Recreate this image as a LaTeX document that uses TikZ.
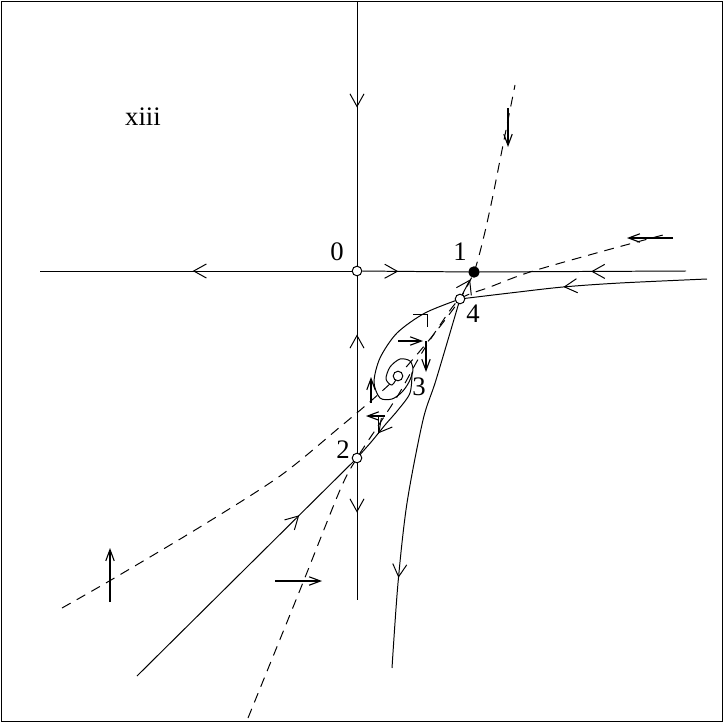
\documentclass[tikz,border=0pt]{standalone}
\usepackage{fontspec}
\setmainfont{Liberation Serif}
\usetikzlibrary{arrows.meta, decorations.markings, backgrounds}
\tikzstyle{equil} = [circle, 
draw=black, 
fill=white, 
line width=0.7pt, 
inner sep=0pt, 
minimum size=0.24cm]
\tikzstyle{equilfull} = [equil, 
fill=black, 
minimum size=0.26cm]
\tikzstyle{eqlabel} = [font=\fontsize{19}{23}\selectfont, 
anchor=base, 
inner sep=0pt]
\tikzstyle{orbit} = [line width=0.7pt]
\tikzstyle{nullcline} = [line width=0.7pt, dash pattern=on 7pt off 5pt]
\tikzstyle{vec} = [line width=0.8pt, -{Straight Barb[length=8pt, width=6pt]}]
\tikzset{midarrow/.style={postaction={decorate, 
  decoration={markings, mark=at position #1 with {\arrow{Straight Barb[length=9pt, width=10pt]}}}}}}

\begin{document}
\begin{tikzpicture}[x=0.025cm, y=-0.025cm]
        \useasboundingbox (0,0) rectangle (724,723);
        \draw[line width=0.7pt] (1.5,1.5) rectangle (722.5,721.5);

        % --- Puntos de equilibrio ---
        \node (n0) [equil] at (357,271) {};
        \node (n1) [equilfull] at (474,272) {};
        \node (n2) [equil] at (357,458) {};
        \node (n3) [equil] at (398,376) {};
        \node (n4) [equil] at (460,299) {};

        \node (l0) [eqlabel] at (337,260) {0};
        \node (l1) [eqlabel] at (460,260) {1};
        \node (l2) [eqlabel] at (343,458) {2};
        \node (l3) [eqlabel] at (419,395) {3};
        \node (l4) [eqlabel] at (473,322) {4};
        \node (caso) [eqlabel] at (143,125) {xiii};

        \coordinate (hL) at (40,271);
        \coordinate (hR) at (686,271);
        \coordinate (vT) at (357,2);
        \coordinate (vB) at (357,600);
        \coordinate (aR) at (707,279);
        \coordinate (cB) at (392,668);
        \coordinate (dL) at (137,676);

        \begin{scope}[on background layer]
        % --- Ceroclinas ---
        \draw [nullcline] plot[smooth] coordinates {(62,608) (111,580) (200,527) (280,476) (340,427) (372,400) (n3.center) (425,345) (445,320) (n4.center) (n1.center) (483,240) (492,200) (503,145) (515,85)};
        \draw [nullcline] plot[smooth] coordinates {(248,718) (300,590) (340,490) (n2.center) (380,423) (400,392) (420,356) (440,325) (n4.center) (490,287) (530,272) (600,252) (663,235)};

        % --- Ejes ---
        \draw [orbit, midarrow=0.51] (n0) -- (hL);
        \draw [orbit, midarrow=0.34] (n0) -- (n1);
        \draw [orbit, midarrow=0.46] (hR) -- (n1);
        \draw [orbit, midarrow=0.40] (vT) -- (n0);
        \draw [orbit, midarrow=0.67] (n2) -- (n0);
        \draw [orbit, midarrow=0.36] (n2) -- (vB);

        % --- Trayectorias ---
        \draw [orbit, midarrow=0.58] plot[smooth] coordinates {(aR) (620,283) (563,287) (510,293) (n4.center)};
        \draw [orbit] plot[smooth] coordinates {(n4.center) (425,313) (397,333) (380,358) (374,382) (380,398) (392,399) (402,392) (409,382) (413,370) (410,361) (400,359) (390,367) (386,379) (392,385) (n3.center)};
        \draw [orbit, midarrow=0.76] plot[smooth] coordinates {(n4.center) (436,380) (423,420) (407,503) (398,583) (cB)};
        \draw [orbit, -{Straight Barb[length=9pt, width=12pt]}, shorten >=2pt] (n4) -- (n1);
        \draw [orbit, midarrow=0.69] plot[smooth] coordinates {(412,372) (410,393) (398,410) (385,425) (372,441) (n2.center)};
        \draw [orbit, midarrow=0.75] (dL) -- (n2);

        % --- Direccion del campo ---
        \draw [vec] (508,108) -- (508,147);
        \draw [vec] (110,602) -- (110,548);
        \draw [vec] (275,581) -- (322,581);
        \draw [vec] (673,238) -- (627,238);
        \draw [vec] (398,341) -- (423,341);
        \draw [vec] (426,341) -- (426,372);
        \draw [vec] (371,403) -- (371,377);
        \draw [vec] (385,416) -- (366,416);
        \draw [orbit] (378,417) -- (378,434);
        \draw [orbit] (413,314) -- (427,314) -- (427,327);
        \end{scope}

    \end{tikzpicture}
\end{document}
